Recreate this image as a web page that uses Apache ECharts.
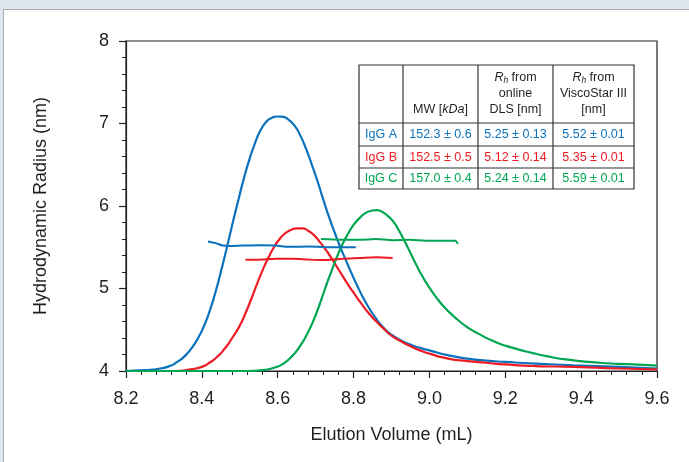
<!DOCTYPE html>
<html>
<head>
<meta charset="utf-8">
<script src="https://cdn.jsdelivr.net/npm/echarts@6/dist/echarts.min.js"></script>
<style>html,body{margin:0;padding:0;background:#fff}#c{width:689px;height:462px}</style>
</head>
<body>
<div id="c"></div>
<script>
// ---- Data ----
const xTicks = [8.2, 8.4, 8.6, 8.8, 9.0, 9.2, 9.4, 9.6];
const yTicks = [4, 5, 6, 7, 8];

const igGA_vol = [8.20, 8.25, 8.29, 8.315, 8.335, 8.355, 8.375, 8.39, 8.405, 8.42, 8.435, 8.45, 8.465, 8.48, 8.495, 8.51, 8.525, 8.54, 8.555, 8.57, 8.585, 8.60, 8.615, 8.63, 8.645, 8.66, 8.675, 8.69, 8.705, 8.72, 8.735, 8.75, 8.765, 8.78, 8.795, 8.81, 8.825, 8.84, 8.86, 8.88, 8.90, 8.925, 8.95, 8.975, 9.00, 9.05, 9.10, 9.15, 9.20, 9.28, 9.38, 9.50, 9.60];
const igGA_rad = [4.00, 4.01, 4.03, 4.06, 4.11, 4.18, 4.29, 4.40, 4.54, 4.72, 4.94, 5.20, 5.48, 5.77, 6.05, 6.32, 6.56, 6.76, 6.92, 7.02, 7.07, 7.085, 7.08, 7.04, 6.97, 6.85, 6.69, 6.50, 6.30, 6.08, 5.87, 5.68, 5.50, 5.34, 5.18, 5.03, 4.89, 4.77, 4.63, 4.52, 4.44, 4.37, 4.32, 4.28, 4.25, 4.19, 4.15, 4.125, 4.11, 4.09, 4.07, 4.05, 4.03];

const igGB_vol = [8.20, 8.33, 8.37, 8.40, 8.42, 8.44, 8.46, 8.48, 8.50, 8.515, 8.53, 8.545, 8.56, 8.575, 8.59, 8.605, 8.62, 8.635, 8.65, 8.665, 8.68, 8.695, 8.71, 8.725, 8.74, 8.755, 8.77, 8.785, 8.80, 8.82, 8.84, 8.86, 8.88, 8.90, 8.925, 8.95, 8.975, 9.00, 9.05, 9.10, 9.15, 9.20, 9.28, 9.38, 9.50, 9.60];
const igGB_rad = [4.00, 4.00, 4.02, 4.05, 4.10, 4.17, 4.27, 4.40, 4.55, 4.70, 4.87, 5.05, 5.22, 5.37, 5.50, 5.60, 5.67, 5.71, 5.73, 5.73, 5.70, 5.65, 5.57, 5.48, 5.38, 5.27, 5.16, 5.05, 4.95, 4.82, 4.70, 4.60, 4.51, 4.43, 4.36, 4.30, 4.25, 4.21, 4.15, 4.12, 4.10, 4.08, 4.06, 4.05, 4.03, 4.02];

const igGC_vol = [8.20, 8.52, 8.56, 8.59, 8.615, 8.64, 8.66, 8.68, 8.695, 8.71, 8.725, 8.74, 8.755, 8.77, 8.785, 8.80, 8.815, 8.83, 8.845, 8.86, 8.875, 8.89, 8.905, 8.92, 8.935, 8.95, 8.965, 8.98, 9.00, 9.02, 9.04, 9.06, 9.08, 9.10, 9.13, 9.17, 9.22, 9.27, 9.32, 9.36, 9.45, 9.54, 9.60];
const igGC_rad = [4.00, 4.00, 4.01, 4.04, 4.09, 4.19, 4.31, 4.47, 4.62, 4.80, 5.00, 5.19, 5.37, 5.53, 5.66, 5.77, 5.85, 5.91, 5.94, 5.95, 5.93, 5.88, 5.81, 5.70, 5.57, 5.43, 5.29, 5.16, 5.01, 4.88, 4.77, 4.68, 4.60, 4.53, 4.45, 4.36, 4.28, 4.22, 4.17, 4.14, 4.10, 4.08, 4.065];

const dlsA_vol = [8.416, 8.437, 8.455, 8.472, 8.508, 8.551, 8.595, 8.630, 8.683, 8.727, 8.771, 8.806];
const dlsA_rad = [5.57, 5.55, 5.52, 5.515, 5.52, 5.525, 5.52, 5.505, 5.51, 5.50, 5.50, 5.50];
const dlsB_vol = [8.515, 8.551, 8.595, 8.639, 8.683, 8.727, 8.771, 8.815, 8.859, 8.903];
const dlsB_rad = [5.35, 5.35, 5.36, 5.36, 5.35, 5.345, 5.36, 5.37, 5.38, 5.37];
const dlsC_vol = [8.714, 8.771, 8.815, 8.859, 8.903, 8.947, 8.991, 9.035, 9.068, 9.075];
const dlsC_rad = [5.60, 5.59, 5.59, 5.60, 5.585, 5.59, 5.58, 5.58, 5.58, 5.54];

const sampleNames = ['IgG A', 'IgG B', 'IgG C'];
const mwValues = ['152.3 ± 0.6', '152.5 ± 0.5', '157.0 ± 0.4'];
const dlsValues = ['5.25 ± 0.13', '5.12 ± 0.14', '5.24 ± 0.14'];
const viscoValues = ['5.52 ± 0.01', '5.35 ± 0.01', '5.59 ± 0.01'];

// ---- Styles ----
const colors = ['#0a72bd', '#ed1c24', '#00a651'];
const FONT = '"Liberation Sans", Arial, Helvetica, sans-serif';
const TXT = '#231f20';
const TFS = 12.5;

const zip = (a, b) => a.map((v, i) => [v, b[i]]);

const chart = echarts.init(document.getElementById('c'), null, {renderer: 'canvas'});

function lineSeries(name, vol, rad, color, width, smooth) {
  return {
    name, type: 'line', data: zip(vol, rad), showSymbol: false, symbol: 'none',
    smooth: smooth, lineStyle: {color, width}, z: 3, animation: false
  };
}

// Table geometry
const colX = [359, 403, 478, 553, 634];
const rowY = [65, 123, 146, 168, 189];
const graphics = [];
graphics.push({type: 'rect', shape: {x: 0, y: 0, width: 689, height: 9}, style: {fill: '#dfe6ee'}, silent: true});
graphics.push({type: 'rect', shape: {x: 0, y: 0, width: 3, height: 462}, style: {fill: '#dfe6ee'}, silent: true});
graphics.push({type: 'line', shape: {x1: 3, y1: 9.5, x2: 689, y2: 9.5}, style: {stroke: '#a7adb4', lineWidth: 1}, silent: true});
graphics.push({type: 'line', shape: {x1: 3.5, y1: 9.5, x2: 3.5, y2: 462}, style: {stroke: '#a7adb4', lineWidth: 1}, silent: true});

graphics.push({type: 'rect', z: 10, shape: {x: colX[0], y: rowY[0], width: colX[4] - colX[0], height: rowY[4] - rowY[0]}, style: {fill: '#fff', stroke: '#333', lineWidth: 1.2}});
for (let i = 1; i < 4; i++) graphics.push({type: 'line', z: 11, shape: {x1: colX[i], y1: rowY[0], x2: colX[i], y2: rowY[4]}, style: {stroke: '#333', lineWidth: 1.2}});
for (let j = 1; j < 4; j++) graphics.push({type: 'line', z: 11, shape: {x1: colX[0], y1: rowY[j], x2: colX[4], y2: rowY[j]}, style: {stroke: '#333', lineWidth: 1.2}});

const rich = {
  i: {fontStyle: 'italic', fontSize: TFS, fontFamily: FONT, fill: TXT},
  s: {fontStyle: 'italic', fontSize: 8.5, fontFamily: FONT, fill: TXT, padding: [6, 0, 0, 0]}
};
function txt(text, x, y, color, va) {
  return {type: 'text', z: 12, x, y, style: {text, fill: color || TXT, fontSize: TFS, fontFamily: FONT, align: 'center', verticalAlign: va || 'middle', lineHeight: 16, rich}};
}
const cx = i => (colX[i] + colX[i + 1]) / 2;
graphics.push(txt('MW [{i|kDa}]', cx(1), 110));
graphics.push(txt('{i|R}{s|h} from\nonline\nDLS [nm]', cx(2), 94));
graphics.push(txt('{i|R}{s|h} from\nViscoStar III\n[nm]', cx(3), 94));
for (let r = 0; r < 3; r++) {
  const y = (rowY[r + 1] + rowY[r + 2]) / 2 + 0.5;
  graphics.push(txt(sampleNames[r], cx(0), y, colors[r]));
  graphics.push(txt(mwValues[r], cx(1), y, colors[r]));
  graphics.push(txt(dlsValues[r], cx(2), y, colors[r]));
  graphics.push(txt(viscoValues[r], cx(3), y, colors[r]));
}

const option = {
  animation: false,
  backgroundColor: '#fff',
  grid: {left: 126, right: 32, top: 41, bottom: 91, show: true, borderColor: TXT, borderWidth: 1.2, backgroundColor: 'transparent'},
  xAxis: {
    type: 'value', min: 8.2, max: 9.6, interval: 0.2,
    name: 'Elution Volume (mL)', nameLocation: 'middle', nameGap: 55,
    nameTextStyle: {fontSize: 18, fontFamily: FONT, color: TXT},
    axisLine: {show: true, onZero: false, lineStyle: {color: TXT, width: 1.2}},
    axisTick: {show: true, length: 7, lineStyle: {color: TXT, width: 1.2}, customValues: xTicks},
    minorTick: {show: true, splitNumber: 5, length: 4, lineStyle: {color: TXT, width: 1}},
    axisLabel: {fontSize: 18, fontFamily: FONT, color: TXT, margin: 19, customValues: xTicks, formatter: v => v.toFixed(1)},
    splitLine: {show: false}
  },
  yAxis: {
    type: 'value', min: 4, max: 8, interval: 1,
    name: 'Hydrodynamic Radius (nm)', nameLocation: 'middle', nameGap: 76,
    nameTextStyle: {fontSize: 18, fontFamily: FONT, color: TXT},
    axisLine: {show: true, onZero: false, lineStyle: {color: TXT, width: 1.2}},
    axisTick: {show: true, length: 7, lineStyle: {color: TXT, width: 1.2}},
    minorTick: {show: true, splitNumber: 5, length: 4, lineStyle: {color: TXT, width: 1}},
    axisLabel: {fontSize: 18, fontFamily: FONT, color: TXT, margin: 17, customValues: yTicks},
    splitLine: {show: false}
  },
  graphic: graphics,
  series: [
    lineSeries('IgG A', igGA_vol, igGA_rad, colors[0], 2.2, 0.6),
    lineSeries('IgG B', igGB_vol, igGB_rad, colors[1], 2.2, 0.6),
    lineSeries('IgG C', igGC_vol, igGC_rad, colors[2], 2.2, 0.6),
    lineSeries('IgG A DLS', dlsA_vol, dlsA_rad, colors[0], 2, 0.3),
    lineSeries('IgG B DLS', dlsB_vol, dlsB_rad, colors[1], 2, 0.3),
    lineSeries('IgG C DLS', dlsC_vol, dlsC_rad, colors[2], 2, 0.3)
  ]
};
chart.setOption(option);
</script>
</body>
</html>
